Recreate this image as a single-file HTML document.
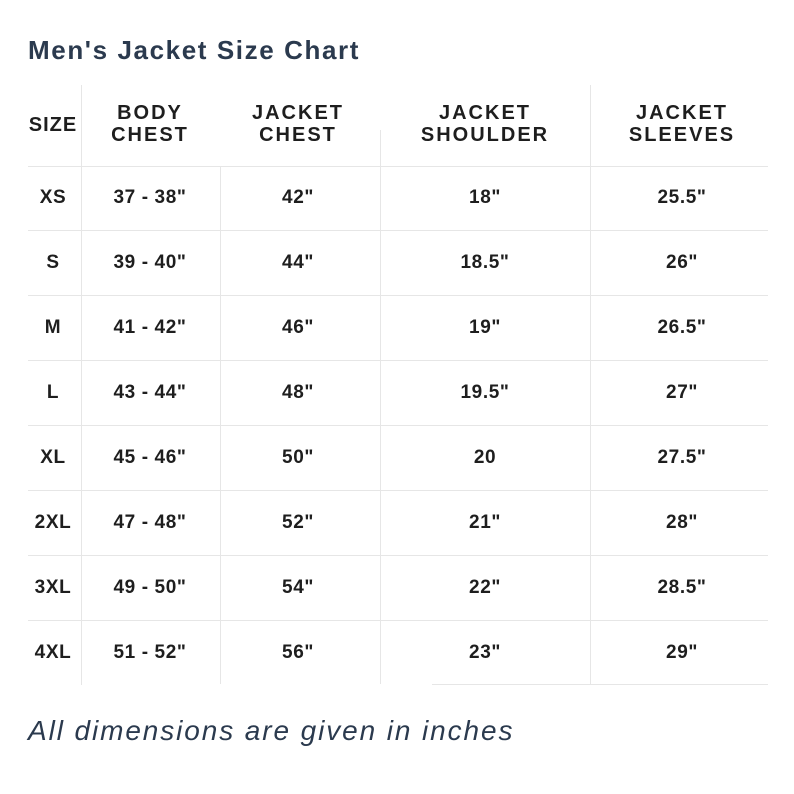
<!DOCTYPE html>
<html><head><style>
body{margin:0;width:794px;height:794px;background:#fff;position:relative;font-family:"Liberation Sans",sans-serif;overflow:hidden}
.t{position:absolute;transform:translate(-50%,-50%);font-weight:bold;color:#1e1e1e;font-size:19px;letter-spacing:0.6px;white-space:nowrap;text-align:center}
.h{font-size:20px;line-height:22px;letter-spacing:2px}
.hl{position:absolute;height:1px;background:#e6e6e6;left:28px;width:740px}
.vl{position:absolute;width:1px;background:#e6e6e6;top:85px;height:600px}
</style></head><body>
<div style="position:absolute;left:28px;top:35px;font-size:26px;letter-spacing:1.6px;font-weight:bold;color:#2b3a4e">Men's Jacket Size Chart</div>
<div class="vl" style="left:81px"></div><div class="vl" style="left:220px;top:166px;height:518px"></div><div class="vl" style="left:380px;top:130px;height:554px"></div><div class="vl" style="left:590px"></div>
<div class="hl" style="top:166px"></div><div class="hl" style="top:230px"></div><div class="hl" style="top:295px"></div><div class="hl" style="top:360px"></div><div class="hl" style="top:425px"></div><div class="hl" style="top:490px"></div><div class="hl" style="top:555px"></div><div class="hl" style="top:620px"></div><div class="hl" style="top:684px;left:432px;width:336px"></div>
<div class="t h" style="left:53px;top:125px;letter-spacing:1px">SIZE</div>
<div class="t h" style="left:150px;top:124px">BODY<br>CHEST</div>
<div class="t h" style="left:298px;top:124px">JACKET<br>CHEST</div>
<div class="t h" style="left:485px;top:124px">JACKET<br>SHOULDER</div>
<div class="t h" style="left:682px;top:124px">JACKET<br>SLEEVES</div>
<div id="rows"></div>
<script>
var d=[["XS","37 - 38\"","42\"","18\"","25.5\""],["S","39 - 40\"","44\"","18.5\"","26\""],["M","41 - 42\"","46\"","19\"","26.5\""],["L","43 - 44\"","48\"","19.5\"","27\""],["XL","45 - 46\"","50\"","20","27.5\""],["2XL","47 - 48\"","52\"","21\"","28\""],["3XL","49 - 50\"","54\"","22\"","28.5\""],["4XL","51 - 52\"","56\"","23\"","29\""]];
var xs=[53,150,298,485,682],h="";
d.forEach(function(r,i){r.forEach(function(c,j){h+='<div class="t" style="left:'+xs[j]+'px;top:'+(198+i*65)+'px">'+c+'</div>';});});
document.getElementById("rows").innerHTML=h;
</script>
<div style="position:absolute;left:28px;top:715px;font-size:28px;letter-spacing:1.9px;font-style:italic;color:#2b3a4e">All dimensions are given in inches</div>
</body></html>
